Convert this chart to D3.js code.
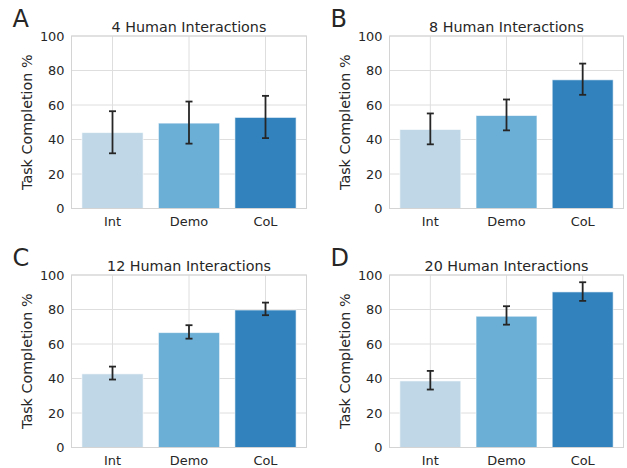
<!DOCTYPE html>
<html><head><meta charset="utf-8">
<script src="https://cdn.jsdelivr.net/npm/d3@7"></script>
<style>
body{margin:0;background:#fff;}
text{font-family:"DejaVu Sans",sans-serif;fill:#262626;}
</style></head>
<body><svg id="c" width="627" height="468"></svg>
<script>
const categories = ["Int", "Demo", "CoL"];
const panelLetters = ["A", "B", "C", "D"];
const panelTitles = ["4 Human Interactions", "8 Human Interactions", "12 Human Interactions", "20 Human Interactions"];
const meansA = [44.0, 49.5, 52.8];
const lowA   = [32.0, 37.6, 40.8];
const highA  = [56.4, 62.0, 65.3];
const meansB = [45.8, 53.9, 74.6];
const lowB   = [37.2, 45.3, 65.9];
const highB  = [55.1, 63.2, 84.0];
const meansC = [42.7, 66.6, 79.7];
const lowC   = [39.4, 63.1, 76.7];
const highC  = [46.9, 70.9, 84.0];
const meansD = [38.6, 76.1, 90.2];
const lowD   = [33.6, 71.2, 85.0];
const highD  = [44.4, 81.9, 95.8];
const yTicks = [0, 20, 40, 60, 80, 100];
const yLabel = "Task Completion %";
const colors = ["#bfd7e6", "#6baed6", "#3182bd"];

const panels = [
  {means: meansA, low: lowA, high: highA},
  {means: meansB, low: lowB, high: highB},
  {means: meansC, low: lowC, high: highC},
  {means: meansD, low: lowD, high: highD}
];
const boxes = [
  {x0: 71.5, x1: 306.5, y0: 36, y1: 208.5},
  {x0: 389.5, x1: 623.5, y0: 36, y1: 208.5},
  {x0: 71.5, x1: 306.5, y0: 275, y1: 447.5},
  {x0: 389.5, x1: 623.5, y0: 275, y1: 447.5}
];
const svg = d3.select("#c");

panels.forEach((p, i) => {
  const b = boxes[i];
  const x = d3.scaleBand().domain(categories).range([b.x0, b.x1]).paddingInner(0.2).paddingOuter(0.136);
  const y = d3.scaleLinear().domain([0, 100]).range([b.y1, b.y0]);
  const g = svg.append("g");

  // grid
  g.selectAll(".hg").data(yTicks).join("line")
    .attr("x1", b.x0).attr("x2", b.x1)
    .attr("y1", d => y(d)).attr("y2", d => y(d))
    .attr("stroke", "#dedede").attr("stroke-width", 1);
  g.selectAll(".vg").data(categories).join("line")
    .attr("x1", d => x(d) + x.bandwidth()/2).attr("x2", d => x(d) + x.bandwidth()/2)
    .attr("y1", b.y0).attr("y2", b.y1)
    .attr("stroke", "#dedede").attr("stroke-width", 1);

  // bars
  g.selectAll(".bar").data(p.means).join("rect")
    .attr("x", (d, j) => x(categories[j]))
    .attr("width", x.bandwidth())
    .attr("y", d => y(d))
    .attr("height", d => y(0) - y(d))
    .attr("fill", (d, j) => colors[j])
    .attr("stroke", "#ffffff").attr("stroke-opacity", 0.6).attr("stroke-width", 1);

  // error bars
  categories.forEach((c, j) => {
    const cx = x(c) + x.bandwidth()/2;
    g.append("line").attr("x1", cx).attr("x2", cx)
      .attr("y1", y(p.low[j])).attr("y2", y(p.high[j]))
      .attr("stroke", "#262626").attr("stroke-width", 1.8);
    [p.low[j], p.high[j]].forEach(v => {
      g.append("line").attr("x1", cx - 3.5).attr("x2", cx + 3.5)
        .attr("y1", y(v)).attr("y2", y(v))
        .attr("stroke", "#262626").attr("stroke-width", 1.8);
    });
  });

  // frame
  g.append("rect").attr("x", b.x0).attr("y", b.y0)
    .attr("width", b.x1 - b.x0).attr("height", b.y1 - b.y0)
    .attr("fill", "none").attr("stroke", "#d4d4d4").attr("stroke-width", 1);

  // axes (no tick marks, seaborn whitegrid)
  const ya = g.append("g").attr("transform", `translate(${b.x0},0)`)
    .call(d3.axisLeft(y).tickValues(yTicks).tickSize(0).tickPadding(7));
  ya.select(".domain").remove();
  ya.attr("font-size", null).attr("font-family", null);
  ya.selectAll("text").attr("font-size", 12.9).attr("fill", "#262626");
  const xa = g.append("g").attr("transform", `translate(0,${b.y1})`)
    .call(d3.axisBottom(x).tickSize(0).tickPadding(8));
  xa.select(".domain").remove();
  xa.attr("font-size", null).attr("font-family", null);
  xa.selectAll("text").attr("font-size", 12.9).attr("fill", "#262626");

  // title
  g.append("text").attr("x", (b.x0 + b.x1)/2).attr("y", b.y0 - 4)
    .attr("text-anchor", "middle").attr("font-size", 14.3).text(panelTitles[i]);
  // y label
  g.append("text").attr("transform", `translate(${b.x0 - 40},${(b.y0 + b.y1)/2}) rotate(-90)`)
    .attr("text-anchor", "middle").attr("font-size", 14.3).text(yLabel);
  // panel letter
  g.append("text").attr("x", b.x0 - 59).attr("y", b.y0 - 9)
    .attr("font-size", 24).text(panelLetters[i]);
});
</script></body></html>
